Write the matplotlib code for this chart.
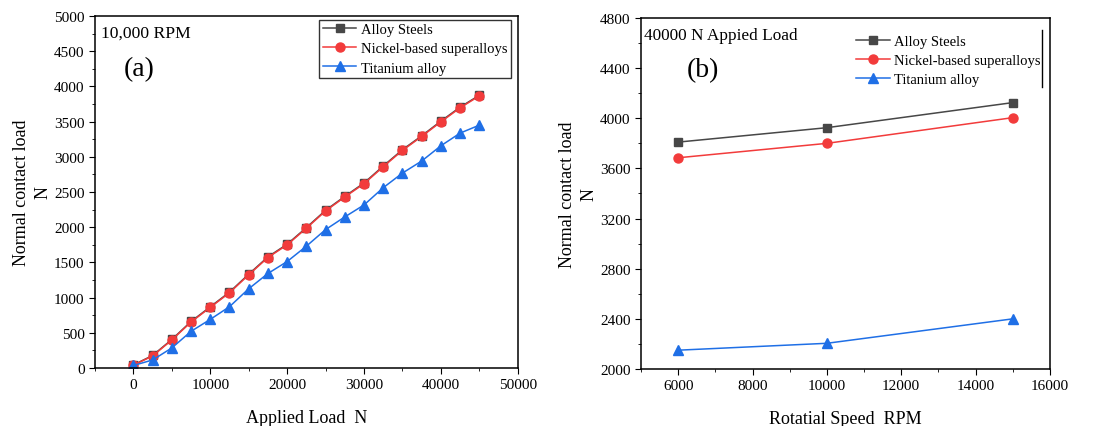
import matplotlib
matplotlib.use('Agg')
import matplotlib.pyplot as plt
from matplotlib.ticker import MultipleLocator

plt.rcParams['font.family'] = ['Liberation Serif', 'DejaVu Serif']
plt.rcParams['font.size'] = 12

# (a) 10,000 RPM, contact load vs applied load
load = [0, 2500, 5000, 7500, 10000, 12500, 15000, 17500, 20000, 22500,
        25000, 27500, 30000, 32500, 35000, 37500, 40000, 42500, 45000]
steel_a = [42, 177, 404, 660, 868, 1077, 1332, 1578, 1758, 1994,
           2240, 2438, 2628, 2869, 3101, 3298, 3507, 3706, 3875]
nickel_a = [40, 170, 397, 652, 860, 1068, 1323, 1569, 1749, 1985,
            2231, 2429, 2618, 2859, 3091, 3289, 3497, 3696, 3866]
titan_a = [35, 113, 284, 520, 690, 870, 1125, 1342, 1512, 1730,
           1966, 2146, 2316, 2561, 2769, 2940, 3157, 3337, 3450]

# (b) 40000 N applied load, contact load vs speed
rpm = [6000, 10000, 15000]
steel_b = [3810, 3925, 4125]
nickel_b = [3685, 3800, 4005]
titan_b = [2150, 2205, 2400]

names = ['Alloy Steels', 'Nickel-based superalloys', 'Titanium alloy']
colors = ['#474747', '#f23b3b', '#1f6fe6']
markers = ['s', 'o', '^']
msizes = [6, 6.5, 6.5]

fig = plt.figure(figsize=(11.04, 4.27), dpi=100)
ax1 = fig.add_axes([0.086, 0.136, 0.383, 0.824])
ax2 = fig.add_axes([0.5806, 0.1335, 0.3704, 0.822])


def draw(ax, x, series):
    for y, name, c, m, ms in zip(series, names, colors, markers, msizes):
        ax.plot(x, y, color=c, marker=m, markersize=ms, lw=1.1, label=name)
    ax.tick_params(which='both', direction='out', top=False, right=False,
                   labelsize=11)
    ax.tick_params(which='major', length=4)
    ax.tick_params(which='minor', length=2.5)
    for s in ax.spines.values():
        s.set_linewidth(1.1)


draw(ax1, load, [steel_a, nickel_a, titan_a])
ax1.set_xlim(-5000, 50000)
ax1.set_ylim(0, 5000)
ax1.xaxis.set_major_locator(MultipleLocator(10000))
ax1.xaxis.set_minor_locator(MultipleLocator(5000))
ax1.yaxis.set_major_locator(MultipleLocator(500))
ax1.yaxis.set_minor_locator(MultipleLocator(250))
ax1.set_xlabel('Applied Load  N', fontsize=13, labelpad=13)
ax1.set_ylabel('Normal contact load\nN', fontsize=13, labelpad=2,
               linespacing=1.3)
ax1.text(0.015, 0.977, '10,000 RPM', transform=ax1.transAxes, fontsize=12.6,
         va='top')
ax1.text(0.068, 0.885, '(a)', transform=ax1.transAxes, fontsize=20, va='top')
leg = ax1.legend(loc='upper right', bbox_to_anchor=(0.984, 0.99),
                 fontsize=10.5, fancybox=False, edgecolor='#333333',
                 framealpha=1, borderpad=0.25, handlelength=2.3,
                 handletextpad=0.3, labelspacing=0.4, borderaxespad=0)
leg.get_frame().set_linewidth(1.0)

draw(ax2, rpm, [steel_b, nickel_b, titan_b])
ax2.set_xlim(5000, 16000)
ax2.set_ylim(2000, 4800)
ax2.xaxis.set_major_locator(MultipleLocator(2000))
ax2.xaxis.set_minor_locator(MultipleLocator(1000))
ax2.yaxis.set_major_locator(MultipleLocator(400))
ax2.yaxis.set_minor_locator(MultipleLocator(200))
ax2.set_xlabel('Rotatial Speed  RPM', fontsize=13, labelpad=13)
ax2.set_ylabel('Normal contact load\nN', fontsize=13, labelpad=2,
               linespacing=1.3)
ax2.text(0.007, 0.974, '40000 N Appied Load', transform=ax2.transAxes,
         fontsize=12.4, va='top')
ax2.text(0.113, 0.89, '(b)', transform=ax2.transAxes, fontsize=20, va='top')
ax2.legend(loc='upper right', bbox_to_anchor=(0.985, 0.96), fontsize=10.5,
           frameon=False, borderpad=0.2, handlelength=2.3,
           handletextpad=0.3, labelspacing=0.4, borderaxespad=0)
ax2.plot([0.981, 0.981], [0.803, 0.966], transform=ax2.transAxes,
         color='black', lw=1.0)

fig.savefig('out.png', dpi=100)
